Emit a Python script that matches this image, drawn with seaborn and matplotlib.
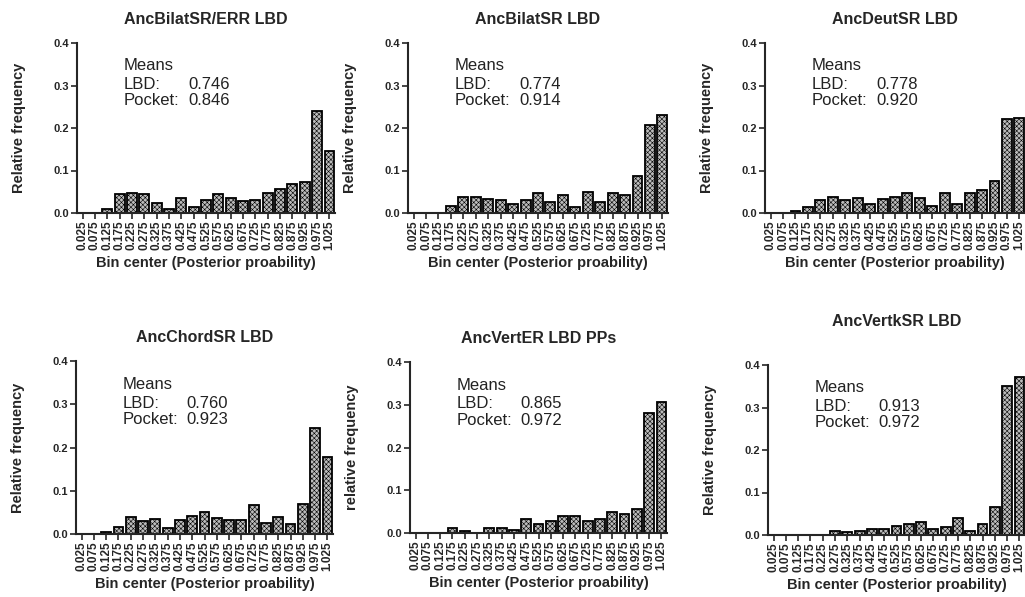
import matplotlib
matplotlib.use("Agg")
import matplotlib.pyplot as plt
import seaborn as sns

sns.set_style("ticks")
plt.rcParams["font.family"] = ["Liberation Sans", "DejaVu Sans"]
plt.rcParams["hatch.linewidth"] = 0.4

bins = ["0.025", "0.075", "0.125", "0.175", "0.225", "0.275", "0.325",
        "0.375", "0.425", "0.475", "0.525", "0.575", "0.625", "0.675",
        "0.725", "0.775", "0.825", "0.875", "0.925", "0.975", "1.025"]

titles = ["AncBilatSR/ERR LBD", "AncBilatSR LBD", "AncDeutSR LBD",
          "AncChordSR LBD", "AncVertER LBD PPs", "AncVertkSR LBD"]
ylabels = ["Relative frequency", "Relative frequency", "Relative frequency",
           "Relative frequency", "relative frequency", "Relative frequency"]
lbd_means = ["0.746", "0.774", "0.778", "0.760", "0.865", "0.913"]
pocket_means = ["0.846", "0.914", "0.920", "0.923", "0.972", "0.972"]

bilat_err = [0, 0, 0.009, 0.045, 0.048, 0.045, 0.023, 0.010, 0.035, 0.014, 0.031,
             0.045, 0.035, 0.028, 0.031, 0.048, 0.057, 0.069, 0.073, 0.239, 0.147]
bilat = [0, 0, 0, 0.017, 0.037, 0.037, 0.033, 0.030, 0.022, 0.030, 0.046,
         0.025, 0.042, 0.013, 0.050, 0.025, 0.046, 0.042, 0.087, 0.208, 0.231]
deut = [0, 0, 0.005, 0.014, 0.030, 0.038, 0.030, 0.035, 0.022, 0.034, 0.038,
        0.047, 0.035, 0.017, 0.047, 0.022, 0.047, 0.053, 0.075, 0.221, 0.224]
chord = [0, 0, 0.005, 0.017, 0.040, 0.031, 0.034, 0.013, 0.033, 0.041, 0.050,
         0.037, 0.033, 0.033, 0.066, 0.025, 0.040, 0.022, 0.069, 0.246, 0.179]
vert_er = [0, 0, 0, 0.012, 0.005, 0.001, 0.012, 0.012, 0.008, 0.032, 0.020,
           0.028, 0.039, 0.039, 0.028, 0.032, 0.048, 0.044, 0.056, 0.280, 0.307]
vertk = [0, 0, 0, 0, 0, 0.009, 0.006, 0.010, 0.014, 0.014, 0.022,
         0.026, 0.031, 0.014, 0.018, 0.041, 0.009, 0.026, 0.067, 0.350, 0.371]
series = [bilat_err, bilat, deut, chord, vert_er, vertk]

W, H = 1025, 597
# panel boxes in pixels: left, top, right, bottom
boxes = [(77, 43, 335, 213), (408, 43, 668, 213), (765, 43, 1025, 213),
         (76, 361, 333, 534), (410, 362, 667, 533), (768, 365, 1025, 535)]
title_pads = [14, 14, 14, 14, 14, 28]

fig = plt.figure(figsize=(W / 100, H / 100), dpi=100)

for i in range(6):
    l, t, r, b = boxes[i]
    ax = fig.add_axes([l / W, 1 - b / H, (r - l) / W, (b - t) / H])
    sns.barplot(x=bins, y=series[i], order=bins, ax=ax, color="#bcbcbc",
                saturation=1, width=0.8, edgecolor="black", linewidth=1.3,
                hatch="xxxxxxx")
    ax.set_xlim(-0.45, 20.45)
    ax.set_ylim(0, 0.4)
    ax.set_yticks([0, 0.1, 0.2, 0.3, 0.4])
    ax.set_yticklabels(["0.0", "0.1", "0.2", "0.3", "0.4"], fontweight="bold", fontsize=8)
    ax.set_xticks(range(len(bins)))
    ax.set_xticklabels(bins, rotation=90, fontweight="bold", fontsize=8.5)
    ax.tick_params(axis="both", direction="out", length=4, width=1.2, pad=1.5)
    for s in ["left", "bottom"]:
        ax.spines[s].set_linewidth(1.5)
    sns.despine(ax=ax)
    ax.set_title(titles[i], fontweight="bold", fontsize=11.5, pad=title_pads[i])
    ax.set_ylabel(ylabels[i], fontweight="bold", fontsize=10.5, labelpad=20)
    ax.set_xlabel("Bin center (Posterior proability)", fontweight="bold",
                  fontsize=10.5, labelpad=4)
    kw = dict(transform=ax.transAxes, fontsize=12, va="center", color="#222222")
    ax.text(0.18, 0.865, "Means", **kw)
    ax.text(0.18, 0.755, "LBD:", **kw)
    ax.text(0.43, 0.755, lbd_means[i], **kw)
    ax.text(0.18, 0.66, "Pocket:", **kw)
    ax.text(0.43, 0.66, pocket_means[i], **kw)

fig.savefig("out.png", dpi=100)
